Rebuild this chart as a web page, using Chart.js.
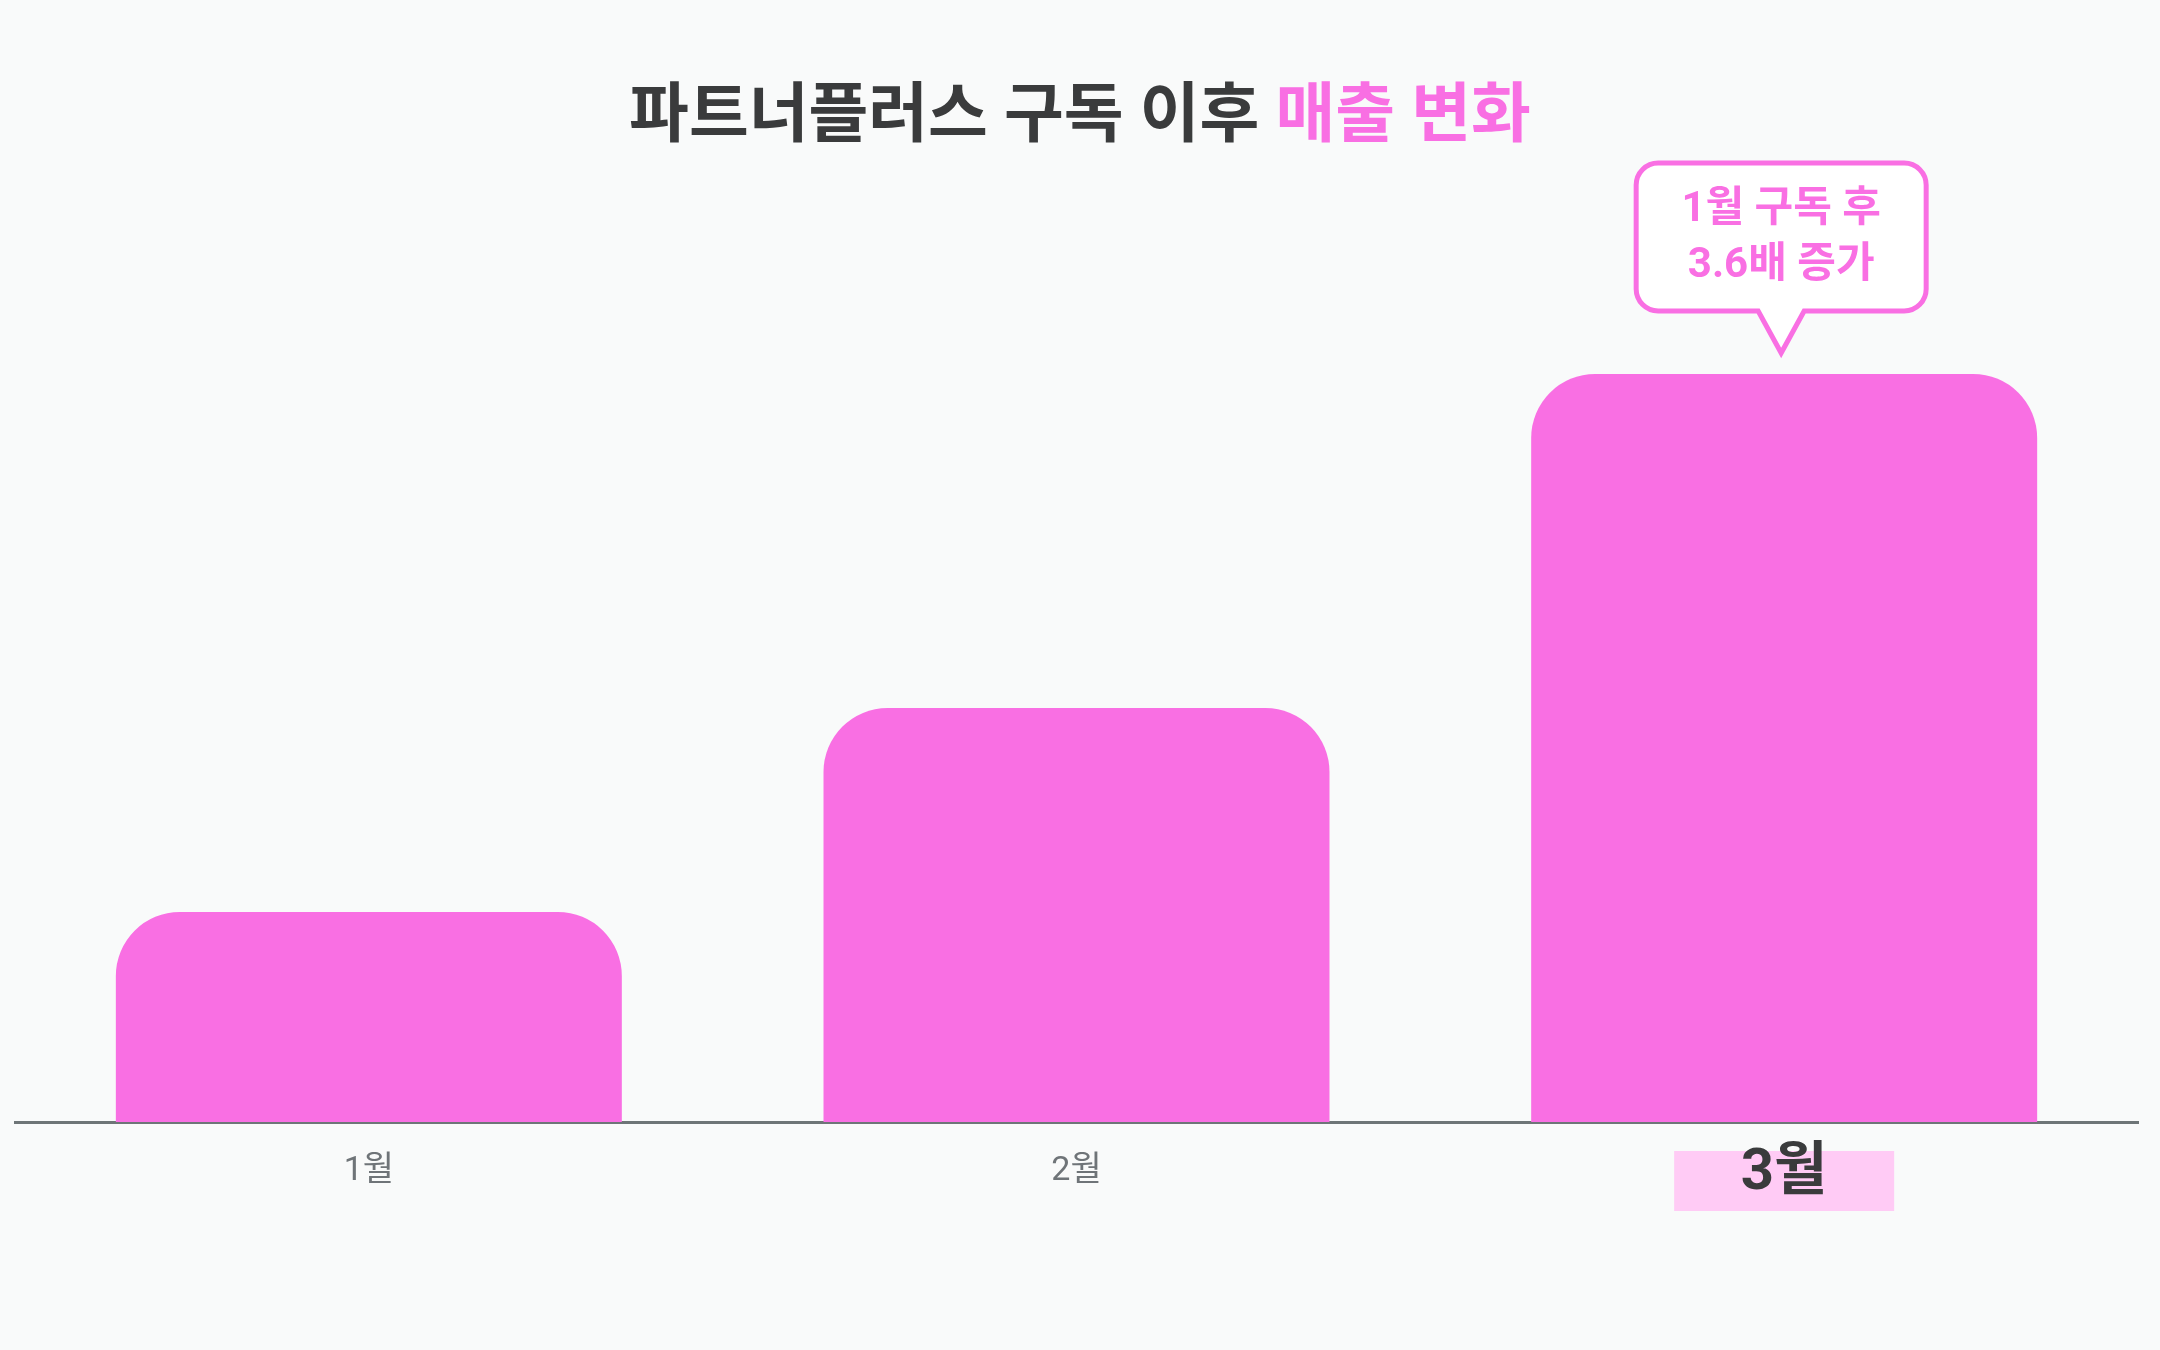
<!DOCTYPE html>
<html>
<head>
<meta charset="utf-8">
<script src="https://cdn.jsdelivr.net/npm/chart.js@4.4.1/dist/chart.umd.min.js"></script>
<style>
  html, body { margin: 0; padding: 0; background: #f9fafa; }
  canvas { display: block; }
</style>
</head>
<body>
<canvas id="salesChart" width="2160" height="1350"></canvas>
<script>
// Chart data
const months = ['1월', '2월', '3월'];
const sales = [100, 197, 356];
const highlightIndex = 2;
const titleParts = ['파트너플러스 구독 이후 ', '매출 변화'];
const calloutLines = ['1월 구독 후', '3.6배 증가'];

const PINK = '#f96fe3';
const DARK = '#3a3b3c';
const GRAY = '#6f7478';
const FONT = 'Roboto, "Noto Sans CJK KR", "Noto Sans", sans-serif';

// Background, title and month labels
const decorPlugin = {
    id: 'decor',
    beforeDraw(chart) {
        const c = chart.ctx;
        c.save();
        c.fillStyle = '#f9fafa';
        c.fillRect(0, 0, chart.width, chart.height);

        // title in two colours
        c.font = `bold 65px ${FONT}`;
        c.textBaseline = 'middle';
        const w0 = c.measureText(titleParts[0]).width;
        const w1 = c.measureText(titleParts[1]).width;
        let x = chart.width / 2 - (w0 + w1) / 2;
        c.textAlign = 'left';
        c.fillStyle = DARK;
        c.fillText(titleParts[0], x, 120);
        c.fillStyle = PINK;
        c.fillText(titleParts[1], x + w0, 120);

        // highlighter under the selected month
        const xs = chart.scales.x;
        const hx = xs.getPixelForTick(highlightIndex);
        c.fillStyle = '#ffcbf5';
        c.fillRect(hx - 110, 1151, 220, 60);
        c.restore();
    },
    afterDraw(chart) {
        const c = chart.ctx;
        const xs = chart.scales.x;
        c.save();
        c.textAlign = 'center';
        c.textBaseline = 'middle';
        months.forEach((m, i) => {
            const px = xs.getPixelForTick(i);
            if (i === highlightIndex) {
                c.font = `bold 58px ${FONT}`;
                c.fillStyle = DARK;
                c.fillText(m, px, 1174);
            } else {
                c.font = `34px ${FONT}`;
                c.fillStyle = GRAY;
                c.fillText(m, px, 1171);
            }
        });

        // speech bubble above the highlighted bar
        const bar = chart.getDatasetMeta(0).data[highlightIndex];
        const cx = bar.x - 3, tipY = bar.y - 21;
        const left = cx - 145, right = cx + 145, top = tipY - 190, bottom = tipY - 42;
        const r = 22, half = 23;
        c.beginPath();
        c.moveTo(left + r, top);
        c.lineTo(right - r, top);
        c.arcTo(right, top, right, top + r, r);
        c.lineTo(right, bottom - r);
        c.arcTo(right, bottom, right - r, bottom, r);
        c.lineTo(cx + half, bottom);
        c.lineTo(cx, tipY);
        c.lineTo(cx - half, bottom);
        c.lineTo(left + r, bottom);
        c.arcTo(left, bottom, left, bottom - r, r);
        c.lineTo(left, top + r);
        c.arcTo(left, top, left + r, top, r);
        c.closePath();
        c.fillStyle = '#ffffff';
        c.fill();
        c.lineWidth = 5;
        c.lineJoin = 'miter';
        c.strokeStyle = PINK;
        c.stroke();

        c.font = `bold 42px ${FONT}`;
        c.fillStyle = PINK;
        c.fillText(calloutLines[0], cx, top + 47);
        c.fillText(calloutLines[1], cx, top + 103);
        c.restore();
    }
};

const ctx = document.getElementById('salesChart').getContext('2d');
const salesChart = new Chart(ctx, {
    type: 'bar',
    data: {
        labels: months,
        datasets: [{
            data: sales,
            backgroundColor: PINK,
            borderSkipped: false,
            borderRadius: { topLeft: 64, topRight: 64, bottomLeft: 0, bottomRight: 0 },
            barPercentage: 0.715,
            categoryPercentage: 1
        }]
    },
    options: {
        responsive: false,
        animation: false,
        devicePixelRatio: 1,
        layout: { padding: { top: 374, left: 15, right: 22, bottom: 220 } },
        plugins: {
            legend: { display: false },
            tooltip: { enabled: false }
        },
        scales: {
            x: {
                grid: { display: false },
                border: { display: true, color: '#6e7577', width: 3 },
                ticks: { display: false }
            },
            y: {
                display: false,
                min: 0,
                max: 356
            }
        }
    },
    plugins: [decorPlugin]
});
</script>
</body>
</html>
